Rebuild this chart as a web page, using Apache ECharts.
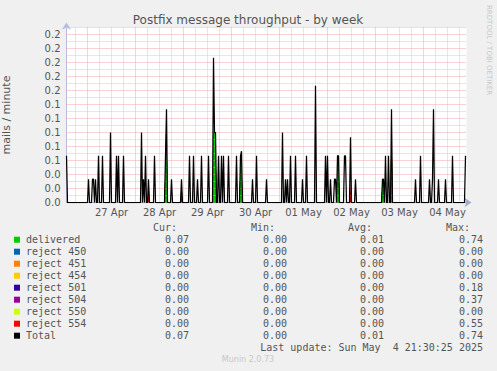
<!DOCTYPE html>
<html><head><meta charset="utf-8">
<script src="https://cdn.jsdelivr.net/npm/echarts@6/dist/echarts.min.js"></script>
<style>html,body{margin:0;padding:0;background:#f0f0f0;}#c{width:497px;height:371px;}</style>
</head><body><div id="c"></div><script>
// x values: hours relative to 27 Apr 00:00, 30-minute samples
const dayLabels = ['27 Apr','28 Apr','29 Apr','30 Apr','01 May','02 May','03 May','04 May'];
const yTickLabels = ['0.0','0.0','0.0','0.1','0.1','0.1','0.1','0.1','0.2','0.2','0.2','0.2','0.2'];
const startHour = -10.5, endHour = 189.5, lastSampleHour = 189, stepHour = 0.5;

// non-zero samples (all other samples are 0)
const totalPoints = [[-10.5,0.0667],[0.5,0.0333],[2.5,0.0333],[3,0.0333],[4,0.0333],[5.5,0.0667],[7.5,0.0667],
  [11.5,0.1],[14.5,0.0667],[15.5,0.0667],[18,0.0667],[27,0.1],[28,0.0333],[29,0.0667],[30.5,0.0333],[33.5,0.0667],
  [39,0.0667],[39.5,0.1333],[42,0.0333],[47,0.0333],[51,0.0667],[53,0.0667],[55,0.0333],[57,0.0667],[60.5,0.0667],
  [63,0.2067],[63.5,0.1],[64,0.1],[65.5,0.0667],[67,0.0667],[68,0.0667],[70.5,0.0667],[74.5,0.0667],[76.5,0.0667],[77,0.0733],
  [82.5,0.0333],[84.5,0.0667],[89.5,0.0333],[97.5,0.1],[99,0.0333],[100,0.0333],[101.5,0.0667],[104,0.0667],[107.5,0.0333],
  [109.5,0.0667],[114,0.1667],[119,0.0667],[120,0.0667],[121.5,0.0333],[123.5,0.0333],[124,0.0333],[125,0.0667],[125.5,0.0667],
  [128.5,0.0667],[129,0.0667],[131.5,0.0933],[134,0.0333],[147.5,0.0333],[148,0.0333],[149,0.0667],[150.5,0.0667],[152,0.1333],
  [164,0.0333],[166.5,0.0667],[171,0.0333],[172.5,0.0333],[173,0.1333],[175.5,0.0333],[179,0.0333],[182.5,0.0667],[189,0.0667]];
const deliveredPoints = [[39,0.0667],[39.5,0.0667],[63,0.1],[63.5,0.1],[64,0.1],[76.5,0.0667],[77,0.0667],
  [125,0.0667],[125.5,0.0667],[147.5,0.0333],[148,0.0333],[152,0.1333]];
const reject450Points = [];
const reject451Points = [];
const reject454Points = [];
const reject501Points = [];
const reject504Points = [[39.5,0.0667],[47,0.0333]];
const reject550Points = [];
const reject554Points = [[30.5,0.0333],[131.5,0.0267]];

const seriesNames = ['delivered','reject 450','reject 451','reject 454','reject 501','reject 504','reject 550','reject 554','Total'];
const seriesColors = ['#00cc00','#0066b3','#ff8000','#ffcc00','#330099','#990099','#ccff00','#ff0000','#000000'];
const statCur = ['0.07','0.00','0.00','0.00','0.00','0.00','0.00','0.00','0.07'];
const statMin = ['0.00','0.00','0.00','0.00','0.00','0.00','0.00','0.00','0.00'];
const statAvg = ['0.01','0.00','0.00','0.00','0.00','0.00','0.00','0.00','0.01'];
const statMax = ['0.74','0.00','0.00','0.00','0.18','0.37','0.00','0.55','0.74'];
const lastUpdate = 'Last update: Sun May  4 21:30:25 2025';

const sampleHours = [];
for (let h = startHour; h <= lastSampleHour; h += stepHour) sampleHours.push(h);
function toMap(points){ return new Map(points.map(p => [p[0], p[1]])); }
const stackPoints = [deliveredPoints, reject450Points, reject451Points, reject454Points, reject501Points, reject504Points, reject550Points, reject554Points];
// cumulative (stacked) values, like RRD AREA + STACK
const stackMaps = stackPoints.map(toMap);
const stacked = stackMaps.map((m, i) => sampleHours.map(h => {
  let s = 0; for (let j = 0; j <= i; j++) s += stackMaps[j].get(h) || 0; return [h, +s.toFixed(4)];
}));
const totalMap = toMap(totalPoints);
const totalData = sampleHours.map(h => [h, totalMap.get(h) || 0]);

// grid lines: every 6 h (red at midnight), every 0.01 (red on labelled 0.02 steps)
const RED = '#f2a6a6', GRAY = '#cccccc';
const gridLines = [];
for (let h = -6; h < endHour; h += 6) gridLines.push({xAxis: h, lineStyle: {color: h % 24 === 0 ? RED : GRAY}});
for (let k = 1; k <= 25; k++) gridLines.push({yAxis: k / 100, lineStyle: {color: k % 2 === 0 ? RED : GRAY}});

const series = [{
  name: 'grid', type: 'line', data: [[startHour, 0]], symbol: 'none', lineStyle: {width: 0}, z: 1, silent: true,
  markLine: {silent: true, symbol: 'none', label: {show: false}, animation: false,
    lineStyle: {type: [1, 1], width: 1}, data: gridLines}
}];
const stackSeries = stacked.map((data, i) => ({
  name: seriesNames[i], type: 'line', data: data, symbol: 'none',
  color: seriesColors[i], lineStyle: {width: 0}, areaStyle: {color: seriesColors[i], opacity: 1, origin: 'start'},
  z: 2 + (stacked.length - i) * 0.01
}));
// draw higher stack levels first so lower ones sit on top
stackSeries.reverse().forEach(s => series.push(s));
series.push({name: 'Total', type: 'line', data: totalData, symbol: 'none', color: '#000',
  lineStyle: {width: 1.25, color: '#000'}, z: 5});

const mono = '10px "DejaVu Sans Mono"';
const txtColor = '#555';
const graphics = [
  {type:'text', x:248, y:19.5, style:{text:'Postfix message throughput - by week', font:'12px "DejaVu Sans"', fill:'#555', align:'center', verticalAlign:'middle'}},
  {type:'text', x:489, y:5, rotation:-Math.PI/2, style:{text:'RRDTOOL / TOBI OETIKER', font:'7px "DejaVu Sans"', fill:'#c8c8c8', align:'left', verticalAlign:'middle'}},
  {type:'text', x:177, y:227.7, style:{text:'Cur:', font:mono, fill:txtColor, align:'right', verticalAlign:'middle'}},
  {type:'text', x:275, y:227.7, style:{text:'Min:', font:mono, fill:txtColor, align:'right', verticalAlign:'middle'}},
  {type:'text', x:372, y:227.7, style:{text:'Avg:', font:mono, fill:txtColor, align:'right', verticalAlign:'middle'}},
  {type:'text', x:470, y:227.7, style:{text:'Max:', font:mono, fill:txtColor, align:'right', verticalAlign:'middle'}},
  {type:'text', x:483, y:347.7, style:{text:lastUpdate, font:mono, fill:txtColor, align:'right', verticalAlign:'middle'}},
  {type:'text', x:248, y:359.7, style:{text:'Munin 2.0.73', font:'8px "DejaVu Sans"', fill:'#c8c8c8', align:'center', verticalAlign:'middle'}}
];
seriesNames.forEach((n, i) => {
  const y = 239.7 + 12 * i;
  graphics.push({type:'rect', shape:{x:14, y:y-3, width:6, height:6}, style:{fill:seriesColors[i]}});
  graphics.push({type:'text', x:26, y:y, style:{text:n, font:mono, fill:txtColor, align:'left', verticalAlign:'middle'}});
  [[statCur,189],[statMin,287],[statAvg,384],[statMax,483]].forEach(([arr, x]) => {
    graphics.push({type:'text', x:x, y:y, style:{text:arr[i], font:mono, fill:txtColor, align:'right', verticalAlign:'middle'}});
  });
});

const chart = echarts.init(document.getElementById('c'), null, {renderer:'svg', width:497, height:371});
chart.setOption({
  animation: false,
  backgroundColor: '#f0f0f0',
  grid: {left:66.5, top:27.5, width:400, height:175, show:true, backgroundColor:'#ffffff', borderWidth:0, outerBoundsMode:'none', containLabel:false},
  xAxis: {
    type:'value', min:startHour, max:endHour, interval:1.5,
    axisLine:{show:true, onZero:false, lineStyle:{color:'#a8aacc', width:1}, symbol:['none','arrow'], symbolSize:[7,7], symbolOffset:[0,5]},
    axisTick:{show:false},
    splitLine:{show:false},
    axisLabel:{margin:5, fontSize:10, fontFamily:'DejaVu Sans', color:'#555',
      formatter: v => { const d = (v - 12) / 24; const k = Math.round(d); return Math.abs(d - k) < 1e-6 && dayLabels[k] ? dayLabels[k] : ''; }}
  },
  yAxis: {
    type:'value', min:0, max:0.25, interval:0.01,
    name:'mails / minute', nameLocation:'middle', nameGap:55, nameRotate:90,
    nameTextStyle:{fontSize:11, fontFamily:'DejaVu Sans', color:'#555'},
    axisLine:{show:true, onZero:false, lineStyle:{color:'#b8bce0', width:1}, symbol:['none','arrow'], symbolSize:[7,7], symbolOffset:[0,5]},
    axisTick:{show:false},
    splitLine:{show:false},
    axisLabel:{margin:6, fontSize:10, fontFamily:'DejaVu Sans', color:'#555',
      formatter: v => { const k = Math.round(v * 100); return k % 2 === 0 && yTickLabels[k/2] !== undefined ? yTickLabels[k/2] : ''; }}
  },
  series: series,
  graphic: graphics
});
</script></body></html>
